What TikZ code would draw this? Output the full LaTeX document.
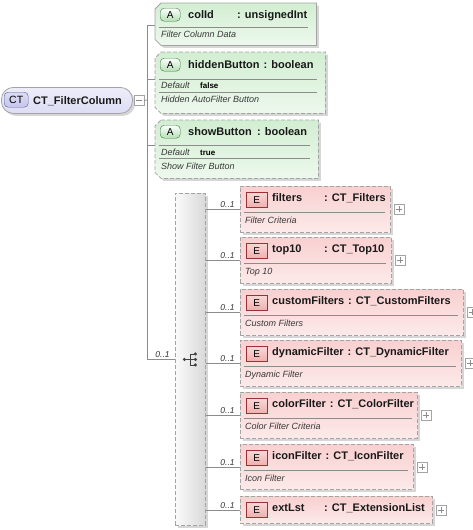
\documentclass[tikz,border=0pt]{standalone}
\usepackage{fontspec}
\setmainfont{Liberation Sans}
\usetikzlibrary{positioning,calc,shadows}

\definecolor{ctfill}{HTML}{DCDCF4}
\definecolor{ctbadge}{HTML}{C6C6EC}
\definecolor{attfill}{HTML}{D2EED2}
\definecolor{attbadge}{HTML}{B4DEB4}
\definecolor{elfill}{HTML}{F9D0D0}
\definecolor{elbadge}{HTML}{F0B0B0}
\definecolor{boxline}{HTML}{A4A4A4}
\definecolor{connline}{HTML}{8C8C8C}
\definecolor{desctxt}{HTML}{383838}

\tikzset{
  conn/.style={draw=connline, line width=0.8pt},
  sepline/.style={draw=connline, line width=0.6pt},
  optional/.style={dash pattern=on 4pt off 2pt},
  shadowed/.style={drop shadow={shadow xshift=2.5pt, shadow yshift=-2.5pt, fill=black!16, opacity=1}},
  rootbox/.style={draw=boxline, line width=0.8pt, rounded corners=12pt, top color=white!50!ctfill, bottom color=ctfill,
    anchor=north west, inner sep=0pt, minimum width=131pt, minimum height=26pt, shadowed},
  ctbadge/.style={draw=gray!70!blue, rounded corners=4pt, top color=white!40!ctbadge, bottom color=ctbadge,
    anchor=north west, inner sep=0pt, minimum width=24pt, minimum height=15pt, font=\fontsize{10.5}{12}\selectfont},
  attarea/.style={anchor=north west, inner sep=0pt},
  attshape/.style={draw=boxline, line width=0.8pt, top color=attfill, bottom color=white!60!attfill, shadowed},
  abadge/.style={draw=gray!60!green!70!black, rounded corners=4pt, top color=white, bottom color=attbadge,
    anchor=north west, inner sep=0pt, minimum width=20pt, minimum height=13pt, font=\fontsize{10}{11}\selectfont},
  elbox/.style={draw=boxline, line width=0.8pt, optional, top color=elfill, bottom color=white!55!elfill,
    anchor=north west, inner sep=0pt, shadowed},
  ebadge/.style={draw=gray!50!red!80!black, top color=white!50!elbadge, bottom color=elbadge,
    anchor=north west, inner sep=0pt, minimum width=21pt, minimum height=15pt, font=\fontsize{10}{11}\selectfont},
  seqbox/.style={draw=boxline, line width=0.8pt, optional, left color=gray!4, right color=gray!30,
    anchor=north west, inner sep=0pt, minimum width=30pt, minimum height=332pt, shadowed},
  seqicon/.style={draw=black!75, line width=0.8pt},
  nametext/.style={font=\bfseries\fontsize{11}{13}\selectfont, text=black!90, anchor=base west, inner sep=0pt},
  desctext/.style={font=\itshape\fontsize{9}{11}\selectfont, text=desctxt, anchor=base west, inner sep=0pt},
  valtext/.style={font=\bfseries\fontsize{8}{10}\selectfont, anchor=base west, inner sep=0pt},
  occurs/.style={font=\itshape\fontsize{8.5}{10}\selectfont, text=black!80, inner sep=1pt},
  togglebox/.style={draw=boxline, fill=white, minimum size=10pt, inner sep=0pt, anchor=west},
}

\begin{document}
\begin{tikzpicture}[x=1pt, y=-1pt]
    \useasboundingbox (0,0) rectangle (472,530);

    % 1. Tipo complejo raíz
    \node[rootbox] (root) at (1,87) {};
    \node[ctbadge] (root-badge) at ([xshift=3pt,yshift=-5pt]root.north west) {CT};
    \node[nametext] (root-name) at ([xshift=32pt,yshift=-17pt]root.north west) {CT\_FilterColumn};
    \node[togglebox] (root-minus) at ([xshift=1pt]root.east) {};
    \draw[connline] ([xshift=-3pt]root-minus.center) -- ([xshift=3pt]root-minus.center);

    % tronco vertical que reparte atributos y secuencia
    \coordinate (trunk) at (147,100);
    \draw[conn] (root-minus.east) -- (trunk);

    % 2. Atributos (caja con esquinas izquierdas cortadas)
    \node[attarea, minimum width=161pt, minimum height=42pt] (colId) at (155,3) {};
    \node[attarea, minimum width=170pt, minimum height=61pt] (hiddenButton) at (155,52) {};
    \node[attarea, minimum width=163pt, minimum height=58pt] (showButton) at (155,120) {};
    \foreach \a/\ls in {colId/solid, hiddenButton/optional, showButton/optional} {
        \path[attshape, \ls] ([xshift=6pt]\a.north west) -- (\a.north east) -- (\a.south east)
            -- ([xshift=6pt]\a.south west) -- ([yshift=6pt]\a.south west)
            -- ([yshift=-6pt]\a.north west) -- cycle;
    }

    \node[abadge] (colId-badge) at ([xshift=5pt,yshift=-5pt]colId.north west) {A};
    \node[nametext] (colId-name) at ([xshift=33pt,yshift=-15.5pt]colId.north west) {colId};
    \path let \p1=(colId-name.base east) in node[nametext] (colId-type) at ({max(\x1+3.5pt,237pt)},\y1) {: unsignedInt};
    \draw[sepline] ([xshift=4pt,yshift=-24pt]colId.north west) -- ([xshift=-8pt,yshift=-24pt]colId.north east);
    \node[desctext] (colId-desc) at ([xshift=6pt,yshift=-34.5pt]colId.north west) {Filter Column Data};
    \coordinate (colId-link) at ([yshift=-22pt]colId.north west);

    \node[abadge] (hiddenButton-badge) at ([xshift=5pt,yshift=-6pt]hiddenButton.north west) {A};
    \node[nametext] (hiddenButton-name) at ([xshift=33pt,yshift=-16.5pt]hiddenButton.north west) {hiddenButton};
    \path let \p1=(hiddenButton-name.base east) in node[nametext] (hiddenButton-type) at ({\x1+3.5pt},\y1) {: boolean};
    \draw[sepline] ([xshift=4pt,yshift=-27pt]hiddenButton.north west) -- ([xshift=-8pt,yshift=-27pt]hiddenButton.north east);
    \node[desctext] (hiddenButton-def) at ([xshift=6pt,yshift=-36pt]hiddenButton.north west) {Default};
    \node[valtext] (hiddenButton-val) at ([xshift=45pt,yshift=-36pt]hiddenButton.north west) {false};
    \draw[sepline] ([xshift=4pt,yshift=-40pt]hiddenButton.north west) -- ([xshift=-8pt,yshift=-40pt]hiddenButton.north east);
    \node[desctext] (hiddenButton-desc) at ([xshift=6pt,yshift=-50pt]hiddenButton.north west) {Hidden AutoFilter Button};
    \coordinate (hiddenButton-link) at ([yshift=-27pt]hiddenButton.north west);

    \node[abadge] (showButton-badge) at ([xshift=5pt,yshift=-5pt]showButton.north west) {A};
    \node[nametext] (showButton-name) at ([xshift=33pt,yshift=-15.5pt]showButton.north west) {showButton};
    \path let \p1=(showButton-name.base east) in node[nametext] (showButton-type) at ({\x1+5pt},\y1) {: boolean};
    \draw[sepline] ([xshift=4pt,yshift=-25.5pt]showButton.north west) -- ([xshift=-8pt,yshift=-25.5pt]showButton.north east);
    \node[desctext] (showButton-def) at ([xshift=6pt,yshift=-35pt]showButton.north west) {Default};
    \node[valtext] (showButton-val) at ([xshift=45pt,yshift=-35pt]showButton.north west) {true};
    \draw[sepline] ([xshift=4pt,yshift=-38.5pt]showButton.north west) -- ([xshift=-8pt,yshift=-38.5pt]showButton.north east);
    \node[desctext] (showButton-desc) at ([xshift=6pt,yshift=-49pt]showButton.north west) {Show Filter Button};
    \coordinate (showButton-link) at ([yshift=-25pt]showButton.north west);

    % 3. Compositor de secuencia
    \node[seqbox] (seq) at (175,193) {};
    \draw[seqicon] ([xshift=-6pt]seq.center) -- (seq.center);
    \draw[seqicon] ([yshift=5.5pt]seq.center) -- ([yshift=-5.5pt]seq.center);
    \foreach \dy in {-5.5,0,5.5} {
        \draw[seqicon] ([yshift=\dy pt]seq.center) -- ++(5,0);
        \fill[black!75] ([xshift=5pt,yshift=\dy pt]seq.center) circle (1.7pt);
    }
    \fill[black!75] ([xshift=-6pt]seq.center) circle (1.7pt);

    % conexiones del tronco
    \draw[conn] (trunk |- colId-link) -- (trunk |- seq.west);
    \foreach \a in {colId,hiddenButton,showButton} {
        \draw[conn] (trunk |- \a-link) -- (\a-link);
    }
    \draw[conn] (trunk |- seq.west) -- (seq.west)
        node[occurs, pos=1, anchor=south east, xshift=-4pt] {0..1};

    % 4. Elementos hijos (nombre/tipo/descripción/arriba/alto/ancho)
    \foreach \e/\t/\d/\top/\h/\w in {
        filters/CT\_Filters/Filter Criteria/186/46/150,
        top10/CT\_Top10/Top 10/237/46/151,
        customFilters/CT\_CustomFilters/Custom Filters/289/46/223,
        dynamicFilter/CT\_DynamicFilter/Dynamic Filter/340/46/221,
        colorFilter/CT\_ColorFilter/Color Filter Criteria/392/46/177,
        iconFilter/CT\_IconFilter/Icon Filter/444/45/173,
        extLst/CT\_ExtensionList//496/27/192} {
        \node[elbox, minimum width=\w*1pt, minimum height=\h*1pt] (\e) at (240,\top) {};
        \node[ebadge] (\e-badge) at ([xshift=6pt,yshift=-6pt]\e.north west) {E};
        \node[nametext] (\e-name) at ([xshift=32pt,yshift=-15.5pt]\e.north west) {\e};
        \path let \p1=(\e-name.base east) in
            node[nametext] (\e-type) at ({max(\x1+3.5pt,324pt)},\y1) {: \t};
        \ifnum\h>30
            \draw[sepline] ([xshift=4pt,yshift=-26pt]\e.north west) -- ([xshift=-6pt,yshift=-26pt]\e.north east);
            \node[desctext] (\e-desc) at ([xshift=5pt,yshift=-37pt]\e.north west) {\d};
        \fi
        \node[togglebox] (\e-plus) at ([xshift=3pt]\e.east) {};
        \draw[connline] ([xshift=-3pt]\e-plus.center) -- ([xshift=3pt]\e-plus.center)
                        ([yshift=-3pt]\e-plus.center) -- ([yshift=3pt]\e-plus.center);
        \draw[conn] (seq.east |- \e.west) -- (\e.west)
            node[occurs, pos=1, anchor=south east, xshift=-4pt] {0..1};
    }

\end{tikzpicture}
\end{document}
